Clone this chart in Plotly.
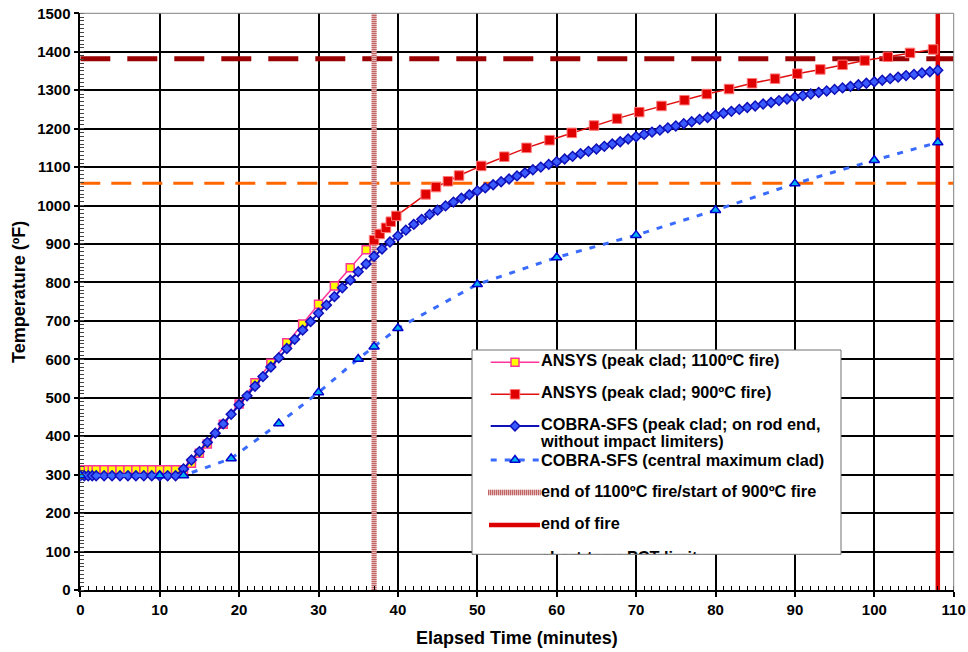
import plotly.graph_objects as go

W, H = 968, 652
# plot area edges in pixels (figure has zero margins)
PX_L, PX_R, PX_T, PX_B = 80.3, 953.7, 13.3, 590.0

# ---------------- data ----------------
ansys1100_time = [0, 0.5, 1, 1.5, 2, 3, 4, 5, 6, 7, 8, 9, 10, 11, 12, 13,
                  14, 15, 16, 18, 20, 22, 24, 26, 28, 30, 32, 34, 36]
ansys1100_temp = [313, 313, 313, 313, 313, 313, 313, 313, 313, 313, 313, 313, 313, 313, 313, 313,
                  330, 356, 380, 431, 484, 539, 590, 643, 692, 743, 791, 838, 885]

ansys900_time = [37.0, 37.7, 38.5, 39.1, 39.8, 43.5, 44.8, 46.3, 47.7, 50.5, 53.4, 56.2, 59.1,
                 61.9, 64.7, 67.6, 70.4, 73.2, 76.1, 78.9, 81.7, 84.6, 87.5, 90.3, 93.2, 96.0,
                 98.8, 101.7, 104.5, 107.4]
ansys900_temp = [910, 926, 942, 958, 973, 1029, 1048, 1063, 1078, 1103, 1127, 1150, 1170,
                 1189, 1208, 1226, 1243, 1259, 1274, 1290, 1303, 1318, 1330, 1343, 1354, 1366,
                 1377, 1387, 1397, 1406]

cobra_peak_time = [0, 0.5, 1, 1.5, 2] + list(range(3, 109))
cobra_peak_temp = [297, 297, 297, 297, 297, 297, 297, 297, 297, 297, 297, 297, 297, 297, 297,
                   315, 338, 360, 384, 408, 432, 457, 482, 505, 530,
                   555, 580, 604, 628, 652, 676, 698, 720, 741, 763,
                   786, 806, 828, 848, 868, 887, 905, 921, 936, 951,
                   964, 977, 988, 999, 1009, 1019, 1028, 1038, 1046, 1054,
                   1062, 1069, 1077, 1085, 1093, 1100, 1107, 1114, 1121, 1128,
                   1135, 1141, 1147, 1154, 1160, 1166, 1173, 1179, 1185, 1191,
                   1196, 1202, 1207, 1213, 1218, 1224, 1229, 1235, 1240, 1245,
                   1250, 1255, 1259, 1264, 1268, 1273, 1277, 1282, 1286, 1290,
                   1294, 1298, 1302, 1306, 1310, 1314, 1318, 1322, 1326, 1330,
                   1334, 1338, 1341, 1345, 1348, 1352]

cobra_central_time = [0, 10, 13, 19, 25, 30, 35, 37, 40, 50, 60, 70, 80, 90, 100, 108]
cobra_central_temp = [298, 298, 298, 342, 433, 514, 601, 633, 681, 795, 865, 923, 988, 1057, 1118, 1164]

fire_switch_time = 37      # end of 1100C fire / start of 900C fire
fire_end_time = 108        # end of fire
pct_limit_long = 1382      # dark red dashed limit (deg F)
pct_limit_short = 1058     # orange dashed limit (deg F)

x_range = [0, 110]
y_range = [0, 1500]

legend_labels = ["ANSYS (peak clad; 1100ºC fire)",
                 "ANSYS (peak clad; 900ºC fire)",
                 "COBRA-SFS (peak clad; on rod end,",
                 "without impact limiters)",
                 "COBRA-SFS (central maximum clad)",
                 "end of 1100ºC fire/start of 900ºC fire",
                 "end of fire",
                 "short-term PCT limit"]

FONT = "Liberation Sans"

# ---------------- styles ----------------
PINK = "#FF3399"
RED = "#E01010"
NAVY = "#1010B8"
BLUE_FILL = "#3A5BFF"
TRI_LINE = "#3A6BFF"
TRI_FILL = "#00B0F0"
HATCH_BASE = "#E4B8B8"
HATCH_DOT = "#C06464"

MK_YEL = dict(symbol="square", size=8, color="#FFFF00", line=dict(color=PINK, width=1.5))
MK_RED = dict(symbol="square", size=9.5, color="#E00000", line=dict(color="#FF7878", width=1))
MK_DIA = dict(symbol="diamond", size=7.5, color=BLUE_FILL, line=dict(color=NAVY, width=1.5))
MK_TRI = dict(symbol="triangle-up", size=9, color=TRI_FILL, line=dict(color="#0000CC", width=1.5))

fig = go.Figure()

def ref_line(x, y, **line):
    fig.add_trace(go.Scatter(x=x, y=y, mode="lines", line=line, hoverinfo="skip",
                             showlegend=False))

# reference lines (drawn first, beneath data)
ref_line(x_range, [pct_limit_long] * 2, color="#990000", width=5, dash="30px,17px")
ref_line(x_range, [pct_limit_short] * 2, color="#FF6600", width=3, dash="20px,11px")
ref_line([fire_switch_time] * 2, y_range, color=HATCH_BASE, width=5)
ref_line([fire_switch_time] * 2, y_range, color=HATCH_DOT, width=5, dash="1px,1px")
ref_line([fire_end_time] * 2, y_range, color="#DD0000", width=4.5)

# data series
fig.add_trace(go.Scatter(x=ansys1100_time, y=ansys1100_temp, mode="lines+markers",
                         line=dict(color=PINK, width=1.5), marker=MK_YEL, showlegend=False))
fig.add_trace(go.Scatter(x=ansys900_time, y=ansys900_temp, mode="lines+markers",
                         line=dict(color=RED, width=1.5), marker=MK_RED, showlegend=False))
fig.add_trace(go.Scatter(x=cobra_peak_time, y=cobra_peak_temp, mode="lines+markers",
                         line=dict(color=NAVY, width=2), marker=MK_DIA, showlegend=False))
fig.add_trace(go.Scatter(x=cobra_central_time, y=cobra_central_temp, mode="lines+markers",
                         line=dict(color=TRI_LINE, width=3, dash="6px,8px"), marker=MK_TRI,
                         showlegend=False))

# ---------------- legend (own subplot so the last entry is clipped) ----------------
LG_L, LG_R, LG_T, LG_B = 472, 841, 350, 554.3
SX0, SX1, SXM, TX = 490.7, 539.3, 515, 541
ys = [362.3, 394.3, 426, 443, 461.5, 492.5, 525, 558.5]

def leg(**kw):
    kw.setdefault("hoverinfo", "skip")
    fig.add_trace(go.Scatter(xaxis="x2", yaxis="y2", showlegend=False, cliponaxis=True, **kw))

leg(x=[LG_L, LG_R, LG_R, LG_L, LG_L], y=[LG_T, LG_T, LG_B, LG_B, LG_T], mode="lines",
    fill="toself", fillcolor="white", line=dict(width=0, color="white"))
leg(x=[SX0, SX1], y=[ys[0]] * 2, mode="lines", line=dict(color=PINK, width=1.5))
leg(x=[SXM], y=[ys[0]], mode="markers", marker=MK_YEL)
leg(x=[SX0, SX1], y=[ys[1]] * 2, mode="lines", line=dict(color=RED, width=1.5))
leg(x=[SXM], y=[ys[1]], mode="markers", marker=MK_RED)
leg(x=[SX0, SX1], y=[ys[2]] * 2, mode="lines", line=dict(color=NAVY, width=2))
leg(x=[SXM], y=[ys[2]], mode="markers", marker=MK_DIA)
leg(x=[SX0, SX1], y=[ys[4] - 1.5] * 2, mode="lines", line=dict(color=TRI_LINE, width=3, dash="6px,8px"))
leg(x=[SXM], y=[ys[4] - 1.5], mode="markers", marker=MK_TRI)
leg(x=[488, 540.7], y=[ys[5]] * 2, mode="lines", line=dict(color=HATCH_BASE, width=5.5))
leg(x=[488, 540.7], y=[ys[5]] * 2, mode="lines", line=dict(color=HATCH_DOT, width=5.5, dash="1px,1px"))
leg(x=[489, 540], y=[ys[6]] * 2, mode="lines", line=dict(color="#DD0000", width=4.5))
leg(x=[TX] * len(ys), y=ys, mode="text", text=legend_labels, textposition="middle right",
    textfont=dict(family=FONT, size=16.3, color="black", weight="bold"))

fig.add_shape(type="rect", xref="paper", yref="paper", layer="above",
              x0=LG_L / W, x1=LG_R / W, y0=1 - LG_B / H, y1=1 - LG_T / H,
              line=dict(color="#707070", width=1), fillcolor="rgba(0,0,0,0)")

# plot frame (top and right, grey)
fig.add_shape(type="line", xref="paper", yref="paper", layer="above",
              x0=PX_L / W, x1=PX_R / W, y0=1 - PX_T / H, y1=1 - PX_T / H,
              line=dict(color="#808080", width=1))
fig.add_shape(type="line", xref="paper", yref="paper", layer="above",
              x0=PX_R / W, x1=PX_R / W, y0=1 - PX_B / H, y1=1 - PX_T / H,
              line=dict(color="#808080", width=1))

tickfont = dict(family=FONT, size=15, color="black", weight="bold")
axis_common = dict(showgrid=True, gridcolor="black", gridwidth=2, zeroline=False,
                   showline=True, linecolor="black", linewidth=1.5,
                   ticks="outside", ticklen=5, tickwidth=1.5, tickcolor="black",
                   tickfont=tickfont, automargin=False, fixedrange=True)

fig.update_layout(
    width=W, height=H, margin=dict(l=0, r=0, t=0, b=0),
    paper_bgcolor="white", plot_bgcolor="white", showlegend=False,
    xaxis=dict(domain=[PX_L / W, PX_R / W], range=x_range, tickmode="linear", tick0=0, dtick=10,
               minor=dict(dtick=1, ticks="inside", ticklen=4, tickwidth=1, tickcolor="black",
                          showgrid=False),
               **axis_common),
    yaxis=dict(domain=[1 - PX_B / H, 1 - PX_T / H], range=y_range, tickmode="linear", tick0=0,
               dtick=100,
               minor=dict(dtick=10, ticks="inside", ticklen=4, tickwidth=1, tickcolor="#444",
                          showgrid=False),
               **axis_common),
    xaxis2=dict(domain=[LG_L / W, LG_R / W], range=[LG_L, LG_R], visible=False, fixedrange=True),
    yaxis2=dict(domain=[1 - LG_B / H, 1 - LG_T / H], range=[LG_B, LG_T], visible=False,
                fixedrange=True),
    annotations=[
        dict(text="Elapsed Time (minutes)", xref="paper", yref="paper",
             x=517 / W, y=1 - 638 / H, xanchor="center", yanchor="middle", showarrow=False,
             font=dict(family=FONT, size=18, color="black", weight="bold")),
        dict(text="Temperature (ºF)", xref="paper", yref="paper", textangle=-90,
             x=19 / W, y=1 - 292 / H, xanchor="center", yanchor="middle", showarrow=False,
             font=dict(family=FONT, size=18, color="black", weight="bold")),
    ],
)

fig.write_html("out.html")
